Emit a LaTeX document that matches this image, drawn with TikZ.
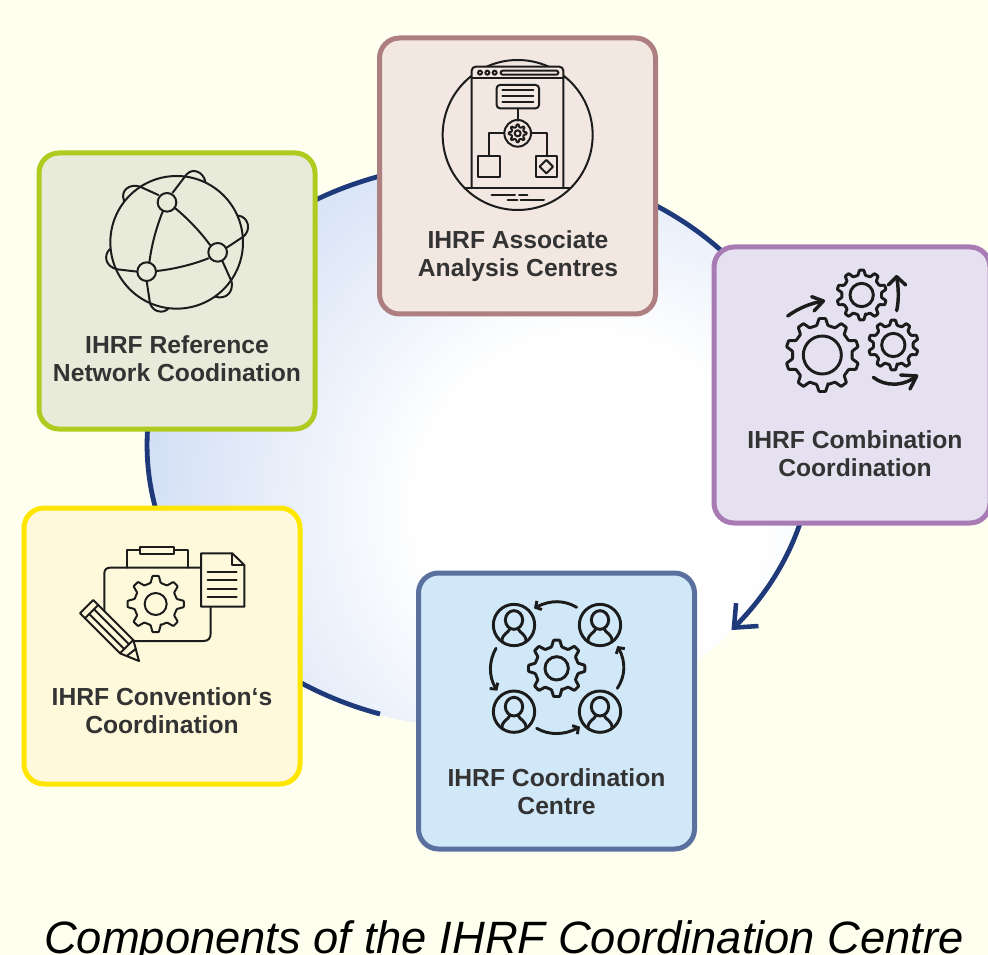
\documentclass[tikz,border=0pt]{standalone}
\usepackage{fontspec}
\setmainfont{Liberation Sans}
\usetikzlibrary{arrows.meta,bending}
\definecolor{pagebg}{HTML}{FFFFEF}
\definecolor{ringcol}{HTML}{1F3A7A}
\definecolor{inkcol}{HTML}{1C1C1C}
\definecolor{labelcol}{HTML}{333333}
\definecolor{glowblue}{HTML}{D2DFF5}
\definecolor{AR}{HTML}{AE7F80}
\definecolor{FR}{HTML}{F2E7E1}
\definecolor{GR}{HTML}{AFCB1F}
\definecolor{FG}{HTML}{E8EBD9}
\definecolor{PU}{HTML}{A97BB5}
\definecolor{FP}{HTML}{E5E1F0}
\definecolor{BL}{HTML}{5A709F}
\definecolor{FB}{HTML}{D0E8F8}
\definecolor{YE}{HTML}{FFE600}
\definecolor{FY}{HTML}{FFF9DC}
\pgfdeclareradialshading{ringglow}{\pgfpointorigin}{color(0bp)=(white); color(9.5bp)=(white); color(25bp)=(glowblue); color(50bp)=(glowblue)}
\tikzset{
  card/.style={draw=#1,line width=3.75pt,rounded corners=15pt,minimum width=207pt,minimum height=207pt,inner sep=0pt,outer sep=0pt},
  lbl/.style={font=\bfseries\fontsize{18.5}{21}\selectfont,text=labelcol,align=center,inner sep=0pt},
  thin ink/.style={draw=inkcol,line width=1.5pt,line join=round,line cap=round},
  bold ink/.style={draw=inkcol,line width=2.2pt,line join=round,line cap=round},
  arrow ink/.style={draw=inkcol,line width=2.6pt,line join=round,line cap=round},
  barb/.style={-{Straight Barb[length=3.2pt,width=7.5pt,flex]}},
  zoomed/.style={shift={(#1)},scale=0.33333}
}
\newcommand{\cogwheel}[7]{% cx cy ro ri n rot style
  \begin{scope}[shift={(#1,#2)},rotate=#6]
    \pgfmathsetmacro\cogp{360/#5}
    \draw[#7,rounded corners=0.5pt] ({-0.30*\cogp}:#4)
      \foreach \k in {1,...,#5}{
        -- ({(\k-1-0.14)*\cogp}:#3) -- ({(\k-1+0.14)*\cogp}:#3)
        -- ({(\k-1+0.30)*\cogp}:#4) -- ({(\k-0.30)*\cogp}:#4)
      } -- cycle;
  \end{scope}}
\newcommand{\personicon}[2]{%
  \begin{scope}[shift={(#1,#2)}]
    \draw[bold ink] (0,0) circle[radius=62];
    \draw[bold ink] (0,-15) ellipse[x radius=26,y radius=28];
    \draw[bold ink] (-36,48) .. controls (-36,26) and (-16,24) .. (-13,12);
    \draw[bold ink] (36,48) .. controls (36,26) and (16,24) .. (13,12);
  \end{scope}}
\begin{document}
\begin{tikzpicture}[x=0.75pt,y=-0.75pt]
\useasboundingbox (0,0) rectangle (988,955);
\fill[pagebg] (0,0) rectangle (988,955);
% ring
\begin{scope}
  \clip (480,446) ellipse[x radius=333,y radius=282];
  \path[shading=ringglow] (590,510) circle[radius=450];
\end{scope}
\coordinate (ringstart) at (380,714);
\draw[ringcol,line width=3.6pt,-{Straight Barb[length=14pt,width=24pt,line width=3.4pt]}] (ringstart) arc[start angle=107.5,end angle=401,x radius=333,y radius=282];
% cards
\node[card=AR,fill=FR] (assoc) at (517.5,176) {};
\node[card=GR,fill=FG] (refnet) at (177,291) {};
\node[card=PU,fill=FP] (combi) at (852,385) {};
\node[card=BL,fill=FB] (centre) at (556.5,711) {};
\node[card=YE,fill=FY] (conv) at (162,646) {};
% labels
\node[lbl] (assoclbl) at (518,256.5) {IHRF Associate\\Analysis Centres};
\node[lbl] (refnetlbl) at (177,358.5) {IHRF Reference\\Network Coodination};
\node[lbl] (combilbl) at (855,454) {IHRF Combination\\Coordination};
\node[lbl] (centrelbl) at (556.5,792) {IHRF Coordination\\Centre};
\node[lbl] (convlbl) at (162,711) {IHRF Convention‘s\\Coordination};
\node[font=\itshape\fontsize{34}{40}\selectfont,text=black,anchor=base,inner sep=0pt] (title) at (504,953) {Components of the IHRF Coordination Centre};
% icon: associate
\begin{scope}[zoomed={370,30}]
  \draw[thin ink] (443,315) circle[radius=225];
  \draw[thin ink,fill=FR,rounded corners=3pt] (305,475) -- (305,110) -- (580,110) -- (580,475);
  \draw[thin ink] (285,475) -- (600,475);
  \draw[thin ink] (305,145) -- (580,145);
  \foreach \dotx in {330,352,374}{\draw[thin ink] (\dotx,128) circle[radius=6];}
  \draw[thin ink,rounded corners=1.5pt] (392,122) rectangle (565,134);
  \draw[thin ink,rounded corners=2.5pt] (380,165) rectangle (507,235);
  \foreach \liney in {180,198,216}{\draw[thin ink] (397,\liney) -- (490,\liney);}
  \draw[thin ink] (443,235) -- (443,272);
  \draw[thin ink] (443,310) circle[radius=40];
  \cogwheel{443}{310}{27}{19}{8}{0}{thin ink}
  \draw[thin ink] (443,310) circle[radius=9];
  \draw[thin ink] (403,310) -- (358,310) -- (358,378);
  \draw[thin ink] (483,310) -- (530,310) -- (530,378);
  \draw[thin ink] (325,378) rectangle (390,442);
  \draw[thin ink] (497,378) rectangle (562,442);
  \draw[thin ink] (529,390) -- (549,410) -- (529,430) -- (509,410) -- cycle;
  \draw[thin ink] (365,495) -- (435,495) (447,495) -- (472,495);
  \draw[thin ink] (413,510) -- (442,510) (452,510) -- (522,510);
\end{scope}
% icon: network
\begin{scope}[zoomed={30,145}]
  \draw[thin ink] (440,292) circle[radius=199];
  \draw[thin ink] (436,190) .. controls (475,222) and (515,265) .. (540,300);
  \draw[thin ink] (398,200) .. controls (378,250) and (365,300) .. (358,352);
  \draw[thin ink] (380,378) .. controls (435,372) and (490,358) .. (535,340);
  \draw[thin ink] (428,143) -- (470,88) .. controls (488,68) and (520,80) .. (526,110);
  \draw[thin ink] (385,150) -- (330,125) .. controls (300,115) and (270,135) .. (282,167);
  \draw[thin ink] (590,308) -- (640,275) .. controls (665,255) and (655,215) .. (625,212);
  \draw[thin ink] (577,348) -- (605,410) .. controls (610,440) and (590,465) .. (555,455);
  \draw[thin ink] (322,380) -- (262,373) .. controls (225,365) and (220,330) .. (240,312);
  \draw[thin ink] (350,408) -- (360,475) .. controls (370,505) and (405,505) .. (415,490);
  \draw[thin ink] (411,172) circle[radius=28];
  \draw[thin ink] (563,322) circle[radius=28];
  \draw[thin ink] (350,380) circle[radius=28];
\end{scope}
% icon: combination
\begin{scope}[zoomed={700,240}]
  \cogwheel{367}{345}{110}{90}{10}{-90}{bold ink}
  \draw[bold ink] (367,345) circle[radius=57];
  \cogwheel{485}{165}{75}{60}{10}{-90}{bold ink}
  \draw[bold ink] (485,165) circle[radius=35];
  \cogwheel{580}{315}{75}{60}{10}{-90}{bold ink}
  \draw[bold ink] (580,315) circle[radius=35];
  \draw[arrow ink] (263,228) .. controls (295,205) and (330,190) .. (370,183);
  \draw[arrow ink] (335,170) -- (370,183) -- (342,213);
  \draw[arrow ink] (590,212) .. controls (597,180) and (596,145) .. (590,110);
  \draw[arrow ink] (565,135) -- (590,110) -- (617,135);
  \draw[arrow ink] (520,412) .. controls (555,440) and (610,440) .. (650,408);
  \draw[arrow ink] (602,405) -- (650,408) -- (630,447);
\end{scope}
% icon: coordination centre
\begin{scope}[zoomed={410,510}]
  \personicon{312}{345}
  \personicon{570}{345}
  \personicon{312}{605}
  \personicon{570}{605}
  \cogwheel{440}{475}{85}{66}{8}{-90}{bold ink}
  \draw[bold ink] (440,475) circle[radius=35];
  \draw[bold ink,barb] (500,292) .. controls (460,268) and (415,270) .. (372,295);
  \draw[bold ink,barb] (380,655) .. controls (420,678) and (470,675) .. (510,650);
  \draw[bold ink,barb] (258,415) .. controls (235,455) and (235,505) .. (262,542);
  \draw[bold ink,barb] (622,535) .. controls (648,495) and (648,450) .. (622,408);
\end{scope}
% icon: conventions
\begin{scope}[zoomed={15,500}]
  \draw[thin ink] (558,203) -- (285,203) .. controls (274,203) and (268,210) .. (268,220) -- (268,345);
  \draw[thin ink] (345,423) -- (565,423) .. controls (580,423) and (587,415) .. (587,400) -- (587,322);
  \draw[thin ink] (335,203) -- (335,150) -- (375,150);
  \draw[thin ink] (478,150) -- (518,150) -- (518,203);
  \draw[thin ink] (375,142) rectangle (478,163);
  \cogwheel{422}{312}{85}{65}{8}{-90}{thin ink}
  \draw[thin ink] (422,312) circle[radius=33];
  \draw[thin ink,fill=FY] (558,160) -- (652,160) -- (688,195) -- (688,320) -- (558,320) -- cycle;
  \draw[thin ink] (652,160) -- (652,195) -- (688,195);
  \foreach \liney in {215,240,266,292}{\draw[thin ink] (578,\liney) -- (665,\liney);}
  \draw[thin ink,fill=FY] (195,340) -- (235,300) -- (355,420) -- (372,483) -- (315,460) -- cycle;
  \draw[thin ink] (210,355) -- (250,315);
  \draw[thin ink] (223,342) -- (328,447);
  \draw[thin ink] (237,328) -- (342,433);
  \draw[thin ink] (315,460) -- (355,420);
  \draw[thin ink] (335,468) -- (362,447);
\end{scope}
\end{tikzpicture}
\end{document}
